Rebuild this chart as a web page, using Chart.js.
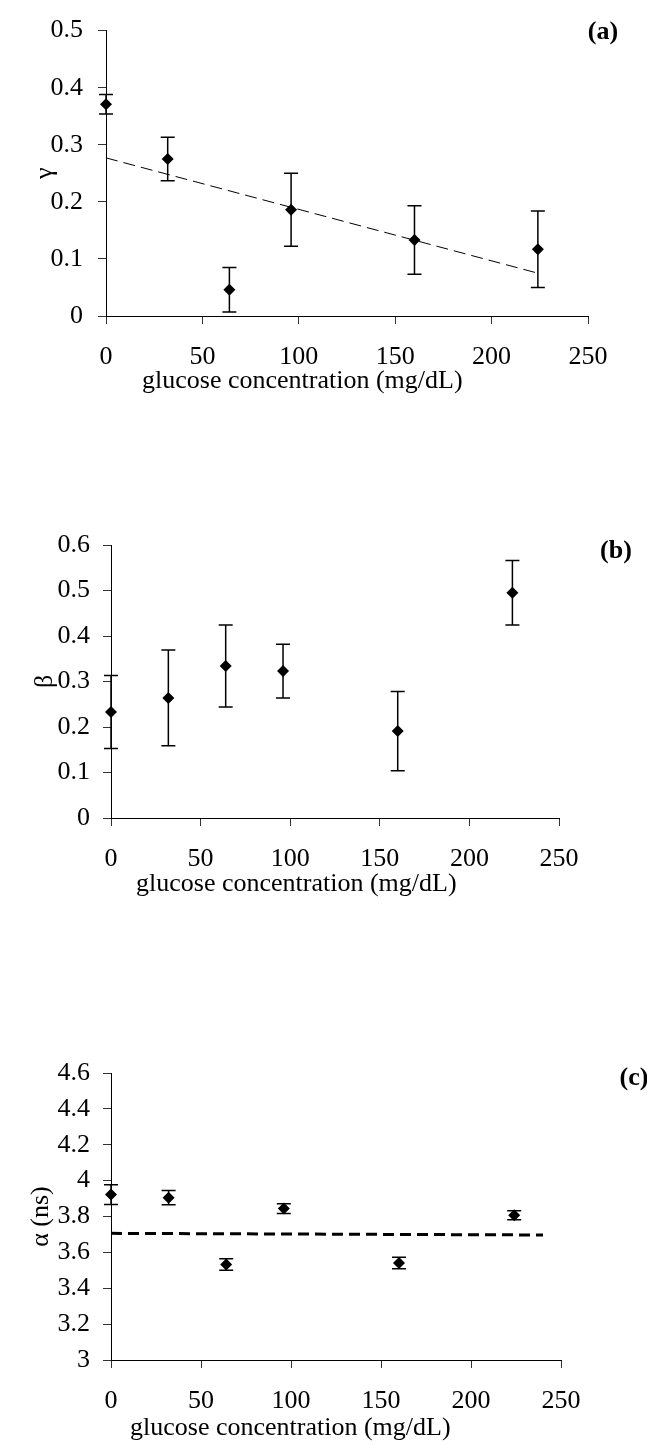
<!DOCTYPE html>
<html>
<head>
<meta charset="utf-8">
<script src="https://cdn.jsdelivr.net/npm/chart.js@4.4.1/dist/chart.umd.min.js"></script>
<style>
  body { margin: 0; background: #fff; }
  #wrap { position: relative; width: 647px; height: 1445px; }
  canvas { position: absolute; left: 0; }
</style>
</head>
<body>
<div id="wrap">
  <canvas id="chartA" width="647" height="400" style="top:0px"></canvas>
  <canvas id="chartB" width="647" height="502" style="top:400px"></canvas>
  <canvas id="chartC" width="647" height="543" style="top:902px"></canvas>
</div>
<script>
// glucose concentrations (mg/dL), shared by all three panels
const glucose = [0, 32, 64, 96, 160, 224];

// panel (a): gamma
const gammaVals = [0.371, 0.275, 0.046, 0.186, 0.133, 0.117];
const gammaErr = [0.017, 0.038, 0.039, 0.064, 0.060, 0.067];
const gammaFitX = [0, 224];
const gammaFitY = [0.277, 0.075];

// panel (b): beta
const betaVals = [0.233, 0.264, 0.334, 0.323, 0.191, 0.495];
const betaErr = [0.080, 0.105, 0.090, 0.059, 0.087, 0.071];

// panel (c): alpha (ns)
const alphaVals = [3.922, 3.905, 3.533, 3.844, 3.541, 3.807];
const alphaErr = [0.055, 0.040, 0.032, 0.027, 0.032, 0.025];
const alphaFitX = [0, 240];
const alphaFitY = [3.706, 3.697];

const xTitle = 'glucose concentration (mg/dL)';
const serif = '"Liberation Serif", "Times New Roman", serif';

// error bars drawn under the markers
const errorBars = {
  id: 'errorBars',
  beforeDatasetsDraw(chart) {
    const {ctx, scales: {x, y}} = chart;
    const ds = chart.data.datasets[0];
    ctx.save();
    ctx.strokeStyle = '#000';
    ctx.lineWidth = 1.5;
    ds.data.forEach((p, i) => {
      const e = ds.errors[i];
      const px = x.getPixelForValue(p.x);
      const top = y.getPixelForValue(p.y + e);
      const bot = y.getPixelForValue(p.y - e);
      ctx.beginPath();
      ctx.moveTo(px, top); ctx.lineTo(px, bot);
      ctx.moveTo(px - 7, top); ctx.lineTo(px + 7, top);
      ctx.moveTo(px - 7, bot); ctx.lineTo(px + 7, bot);
      ctx.stroke();
    });
    ctx.restore();
  }
};

// panel letter and x axis caption
const panelText = {
  id: 'panelText',
  afterDraw(chart, args, o) {
    const ctx = chart.ctx;
    ctx.save();
    ctx.fillStyle = '#000';
    ctx.textBaseline = 'middle';
    ctx.font = 'bold 26px ' + serif;
    ctx.textAlign = 'center';
    ctx.fillText(o.label, o.lx, o.ly);
    ctx.font = '26px ' + serif;
    ctx.textAlign = 'left';
    ctx.fillText(xTitle, o.tx, o.ty);
    ctx.restore();
  }
};

function makeChart(id, p) {
  const datasets = [{
    type: 'scatter',
    data: glucose.map((g, i) => ({x: g, y: p.vals[i]})),
    errors: p.errs,
    pointStyle: 'rectRot',
    pointRadius: 6,
    backgroundColor: '#000',
    borderWidth: 0,
    clip: false
  }];
  if (p.fitX) {
    datasets.push({
      type: 'line',
      data: p.fitX.map((g, i) => ({x: g, y: p.fitY[i]})),
      borderColor: '#000',
      borderWidth: p.fitWidth,
      borderDash: p.fitDash,
      pointRadius: 0,
      fill: false
    });
  }
  return new Chart(document.getElementById(id), {
    type: 'scatter',
    data: {datasets: datasets},
    options: {
      responsive: false,
      animation: false,
      layout: {padding: {left: 0, top: p.top, right: p.right, bottom: 0}},
      plugins: {
        legend: {display: false},
        tooltip: {enabled: false},
        panelText: {label: p.label, lx: p.lx, ly: p.ly, tx: p.tx, ty: p.ty}
      },
      scales: {
        x: {
          type: 'linear', min: 0, max: 250,
          afterFit: s => { s.height = p.xh; },
          border: {display: true, color: '#000', width: 1},
          grid: {drawOnChartArea: false, drawTicks: true, tickLength: 8, color: '#333'},
          ticks: {stepSize: 50, padding: 18, color: '#000', font: {family: serif, size: 26}, maxRotation: 0}
        },
        y: {
          type: 'linear', min: p.ymin, max: p.ymax,
          afterFit: s => { s.width = p.yw; },
          border: {display: true, color: '#000', width: 1},
          grid: {drawOnChartArea: false, drawTicks: true, tickLength: 8, color: '#333'},
          ticks: {
            stepSize: p.step, padding: p.ypad, color: '#000',
            font: {family: serif, size: 26},
            callback: v => String(Math.round(v * 10) / 10)
          },
          title: {display: true, text: p.ytitle, color: '#000', font: {family: serif, size: 26}, padding: {top: p.ytp, bottom: 0}}
        }
      }
    },
    plugins: [errorBars, panelText]
  });
}

makeChart('chartA', {
  vals: gammaVals, errs: gammaErr, fitX: gammaFitX, fitY: gammaFitY, fitWidth: 1, fitDash: [12, 6],
  ymin: 0, ymax: 0.5, step: 0.1, ytitle: 'γ',
  top: 24, right: 59, yw: 106, xh: 84, ypad: 15, ytp: 30,
  label: '(a)', lx: 603, ly: 32, tx: 142, ty: 381
});

makeChart('chartB', {
  vals: betaVals, errs: betaErr,
  ymin: 0, ymax: 0.6, step: 0.1, ytitle: 'β',
  top: 145, right: 88, yw: 111, xh: 84, ypad: 13, ytp: 30,
  label: '(b)', lx: 616, ly: 151, tx: 136, ty: 484
});

makeChart('chartC', {
  vals: alphaVals, errs: alphaErr, fitX: alphaFitX, fitY: alphaFitY, fitWidth: 3, fitDash: [11, 6],
  ymin: 3, ymax: 4.6, step: 0.2, ytitle: 'α (ns)',
  top: 171, right: 86, yw: 111, xh: 85, ypad: 13, ytp: 26,
  label: '(c)', lx: 634, ly: 176, tx: 130, ty: 526
});
</script>
</body>
</html>
